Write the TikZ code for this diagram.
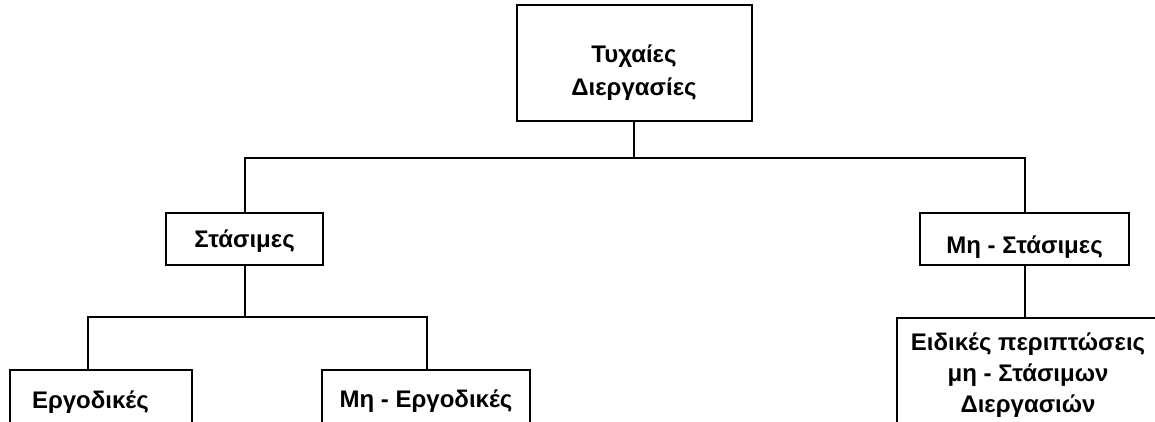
\documentclass[tikz,border=0pt]{standalone}
\usepackage{fontspec}
\setmainfont{Liberation Sans}
\usetikzlibrary{calc}
\begin{document}
\begin{tikzpicture}[x=1pt,y=-1pt,
  box/.style={draw=black, line width=2pt, fill=white, inner sep=0pt,
    font=\fontsize{24}{31}\selectfont\bfseries, align=center},
  conn/.style={draw=black, line width=2pt}]
\path[use as bounding box, clip] (0,0) rectangle (1155,421);
\fill[white] (0,0) rectangle (1155,421);
% nodes
\node[box, minimum width=235pt, minimum height=116pt,
  font=\fontsize{24}{33}\selectfont\bfseries] (top) at (634,63)
  {\rule{0pt}{36pt}Τυχαίες\\Διεργασίες};
\node[box, minimum width=157pt, minimum height=52pt, text height=18pt, text depth=2pt] (sta) at (244.5,239) {Στάσιμες};
\node[box, minimum width=209pt, minimum height=52pt, text height=30pt, text depth=2pt] (msta) at (1024.5,239) {Μη - Στάσιμες};
\node[box, text width=138pt, inner xsep=22pt, align=left, minimum height=60pt, text height=18pt, text depth=2pt] (erg) at (101,400) {Εργοδικές};
\node[box, minimum width=208pt, minimum height=60pt, text height=16pt, text depth=2pt] (merg) at (426,400) {Μη - Εργοδικές};
\node[box, minimum width=262pt, minimum height=110pt] (eid) at (1028,373)
  {\rule{0pt}{21pt}Ειδικές περιπτώσεις\\μη - Στάσιμων\\Διεργασιών};
% junctions
\coordinate (j1) at (634,158);
\coordinate (j1l) at (244.5,158);
\coordinate (j1r) at (1024.5,158);
\coordinate (j2) at (244.5,317);
\coordinate (j2l) at (88,317);
\coordinate (j2r) at (427,317);
% connectors
\draw[conn] (top.south) -- (j1);
\draw[conn] (sta.north) -- (j1l) -- (j1r) -- (msta.north);
\draw[conn] (sta.south) -- (j2);
\draw[conn] (j2l |- erg.north) -- (j2l) -- (j2r) -- (j2r |- merg.north);
\draw[conn] (msta.south) -- (msta.south |- eid.north);
\end{tikzpicture}
\end{document}
